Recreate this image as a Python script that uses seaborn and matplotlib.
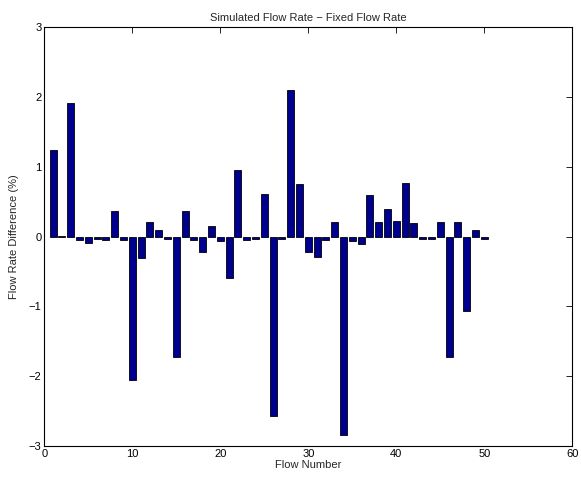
import matplotlib
matplotlib.use("Agg")
import matplotlib.pyplot as plt
import seaborn as sns
import numpy as np
import pandas as pd

flow_number = list(range(1, 51))
rate_diff = [1.24, 0.01, 1.91, -0.05, -0.09, -0.03, -0.05, 0.37, -0.05, -2.05,
             -0.30, 0.21, 0.09, -0.03, -1.73, 0.37, -0.05, -0.22, 0.15, -0.07,
             -0.59, 0.95, -0.05, -0.03, 0.61, -2.57, -0.03, 2.09, 0.75, -0.22,
             -0.29, -0.05, 0.21, -2.84, -0.07, -0.10, 0.59, 0.21, 0.40, 0.22,
             0.76, 0.19, -0.03, -0.03, 0.21, -1.73, 0.21, -1.06, 0.09, -0.03]
x_ticks = [0, 10, 20, 30, 40, 50, 60]
y_ticks = [-3, -2, -1, 0, 1, 2, 3]

sns.set_style("white")
plt.rcParams['font.family'] = ['Liberation Sans', 'DejaVu Sans']

df = pd.DataFrame({"flow": flow_number, "diff": rate_diff})

fig = plt.figure(figsize=(5.81, 4.79), dpi=100)
ax = fig.add_axes([0.0763, 0.0683, 0.9087, 0.8757])
sns.barplot(data=df, x="flow", y="diff", native_scale=True, width=0.8,
            color="#00008F", saturation=1, edgecolor="black", linewidth=0.6,
            ax=ax, errorbar=None)
ax.set_xlim(0, 60)
ax.set_ylim(-3, 3)
ax.set_xticks(x_ticks)
ax.set_yticks(y_ticks)
ax.set_xticklabels([str(t) for t in x_ticks])
ax.set_yticklabels([str(t).replace('-', '\u2212') for t in y_ticks])
ax.tick_params(direction='in', length=4, width=0.6, top=True, right=True,
               labelsize=8, pad=2, colors='black')
for s in ax.spines.values():
    s.set_visible(True)
    s.set_color('black')
    s.set_linewidth(0.8)
ax.set_xlabel("Flow Number", fontsize=8, labelpad=1)
ax.set_ylabel("Flow Rate Difference (%)", fontsize=8, labelpad=7)
ax.set_title("Simulated Flow Rate \u2212 Fixed Flow Rate", fontsize=8, pad=4)
fig.savefig("out.png", dpi=100)
